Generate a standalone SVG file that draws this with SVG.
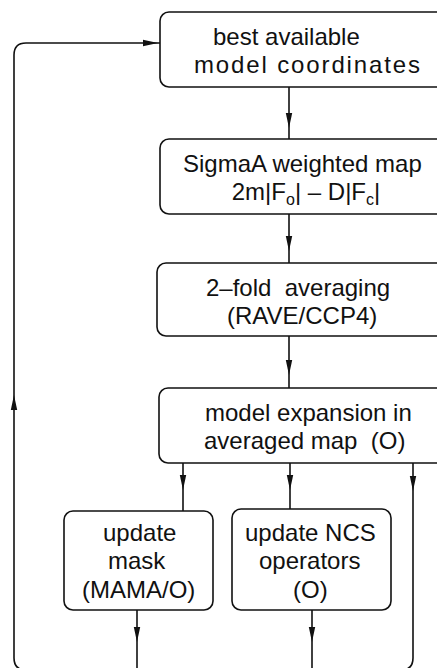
<svg xmlns="http://www.w3.org/2000/svg" xmlns:xlink="http://www.w3.org/1999/xlink" width="437" height="668" viewBox="0 0 437 668">
<style>
.box{fill:#fff;stroke:#111;stroke-width:1.6}
.con{fill:none;stroke:#111;stroke-width:1.6}
.t{font-family:"Liberation Sans",Arial,Helvetica,sans-serif;font-size:24px;fill:#111}
.s{font-size:16px}
</style>
<defs>
<path id="ah" d="M0,0 L-3.2,-15 L3.2,-15 Z" fill="#111"/>
</defs>
<rect width="437" height="668" fill="#fff"/>
<g id="connectors">
<path class="con" d="M413,463 V658 Q413,670 401,670 H26 Q14,670 14,658 V55 Q14,43 26,43 H160"/>
<line class="con" x1="289" y1="87" x2="289" y2="139"/>
<line class="con" x1="289" y1="214" x2="289" y2="263"/>
<line class="con" x1="289" y1="336" x2="289" y2="388"/>
<line class="con" x1="183" y1="463" x2="183" y2="511"/>
<line class="con" x1="290" y1="463" x2="290" y2="509"/>
<line class="con" x1="137" y1="610" x2="137" y2="670"/>
<line class="con" x1="312" y1="610" x2="312" y2="670"/>
<use xlink:href="#ah" transform="translate(289,128)"/>
<use xlink:href="#ah" transform="translate(289,251)"/>
<use xlink:href="#ah" transform="translate(289,375)"/>
<use xlink:href="#ah" transform="translate(183,490)"/>
<use xlink:href="#ah" transform="translate(290,490)"/>
<use xlink:href="#ah" transform="translate(413,491)"/>
<use xlink:href="#ah" transform="translate(137,642)"/>
<use xlink:href="#ah" transform="translate(312,642)"/>
<use xlink:href="#ah" transform="translate(14,395) rotate(180)"/>
<use xlink:href="#ah" transform="translate(158,43) rotate(-90)"/>
</g>
<g id="n1">
<rect class="box" x="160" y="12" width="300" height="75" rx="9"/>
<text class="t" x="213" y="45">best available</text>
<text class="t" x="194" y="73" textLength="226" lengthAdjust="spacing">model coordinates</text>
</g>
<g id="n2">
<rect class="box" x="160" y="139" width="300" height="75" rx="9"/>
<text class="t" x="183" y="172">SigmaA weighted map</text>
<text class="t" x="306" y="200" text-anchor="middle">2m|F<tspan class="s" dy="5">o</tspan><tspan dy="-5">| – D|F</tspan><tspan class="s" dy="5">c</tspan><tspan dy="-5">|</tspan></text>
</g>
<g id="n3">
<rect class="box" x="157" y="263" width="300" height="73" rx="9"/>
<text class="t" x="206" y="296" xml:space="preserve">2–fold  averaging</text>
<text class="t" x="227" y="324">(RAVE/CCP4)</text>
</g>
<g id="n4">
<rect class="box" x="159" y="388" width="300" height="75" rx="9"/>
<text class="t" x="205" y="421">model expansion in</text>
<text class="t" x="204" y="449" xml:space="preserve">averaged map  (O)</text>
</g>
<g id="n5">
<rect class="box" x="64" y="511" width="149" height="99" rx="9"/>
<text class="t" x="103" y="541">update</text>
<text class="t" x="108" y="569">mask</text>
<text class="t" x="82" y="598">(MAMA/O)</text>
</g>
<g id="n6">
<rect class="box" x="232" y="509" width="159" height="101" rx="9"/>
<text class="t" x="245" y="541">update NCS</text>
<text class="t" x="259" y="569">operators</text>
<text class="t" x="293" y="598">(O)</text>
</g>
</svg>
